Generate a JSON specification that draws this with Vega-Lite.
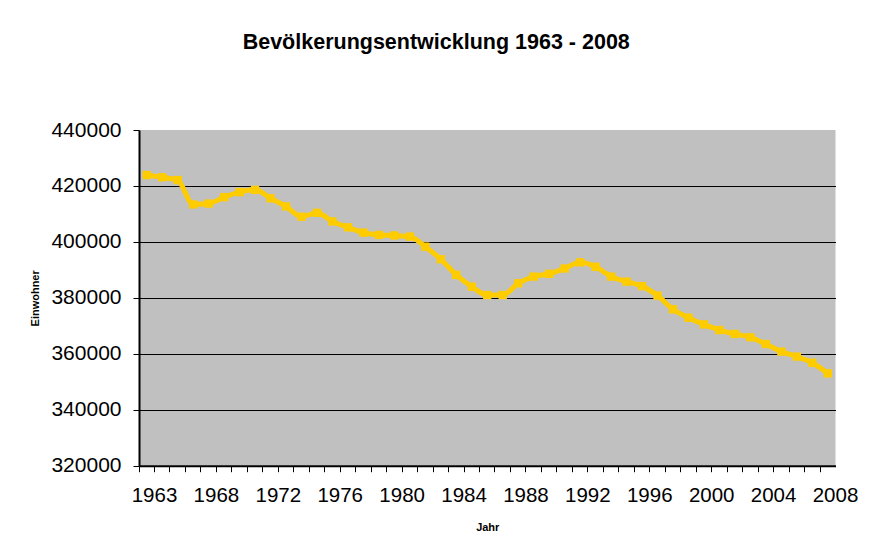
{
  "$schema": "https://vega.github.io/schema/vega-lite/v6.json",
  "autosize": {"type": "none"},
  "width": 696.5,
  "height": 335.7,
  "padding": {"left": 139, "top": 130, "right": 33.5, "bottom": 85.3},
  "background": "white",
  "title": {
    "text": "Bevölkerungsentwicklung 1963 - 2008",
    "font": "Liberation Sans",
    "fontSize": 21.5,
    "fontWeight": "bold",
    "color": "black",
    "anchor": "middle",
    "dx": -51,
    "offset": 66
  },
  "config": {
    "view": {"fill": "#C0C0C0", "stroke": null},
    "font": "Liberation Sans"
  },
  "data": {
    "values": [
      {"Jahr": 1963, "Einwohner": 423900},
      {"Jahr": 1964, "Einwohner": 423100},
      {"Jahr": 1965, "Einwohner": 422100},
      {"Jahr": 1967, "Einwohner": 413400},
      {"Jahr": 1968, "Einwohner": 413700},
      {"Jahr": 1969, "Einwohner": 416000},
      {"Jahr": 1970, "Einwohner": 417800},
      {"Jahr": 1971, "Einwohner": 418600},
      {"Jahr": 1972, "Einwohner": 415600},
      {"Jahr": 1973, "Einwohner": 412700},
      {"Jahr": 1974, "Einwohner": 409000},
      {"Jahr": 1975, "Einwohner": 410400},
      {"Jahr": 1976, "Einwohner": 407300},
      {"Jahr": 1977, "Einwohner": 405200},
      {"Jahr": 1978, "Einwohner": 403300},
      {"Jahr": 1979, "Einwohner": 402500},
      {"Jahr": 1980, "Einwohner": 402300},
      {"Jahr": 1981, "Einwohner": 401900},
      {"Jahr": 1982, "Einwohner": 398300},
      {"Jahr": 1983, "Einwohner": 393800},
      {"Jahr": 1984, "Einwohner": 388200},
      {"Jahr": 1985, "Einwohner": 384000},
      {"Jahr": 1986, "Einwohner": 381000},
      {"Jahr": 1987, "Einwohner": 381000},
      {"Jahr": 1988, "Einwohner": 385200},
      {"Jahr": 1989, "Einwohner": 387600},
      {"Jahr": 1990, "Einwohner": 388600},
      {"Jahr": 1991, "Einwohner": 390500},
      {"Jahr": 1992, "Einwohner": 392700},
      {"Jahr": 1993, "Einwohner": 391100},
      {"Jahr": 1994, "Einwohner": 387600},
      {"Jahr": 1995, "Einwohner": 385800},
      {"Jahr": 1996, "Einwohner": 384200},
      {"Jahr": 1997, "Einwohner": 380800},
      {"Jahr": 1998, "Einwohner": 375900},
      {"Jahr": 1999, "Einwohner": 372900},
      {"Jahr": 2000, "Einwohner": 370500},
      {"Jahr": 2001, "Einwohner": 368500},
      {"Jahr": 2002, "Einwohner": 367100},
      {"Jahr": 2003, "Einwohner": 365900},
      {"Jahr": 2004, "Einwohner": 363500},
      {"Jahr": 2005, "Einwohner": 360800},
      {"Jahr": 2006, "Einwohner": 359000},
      {"Jahr": 2007, "Einwohner": 356800},
      {"Jahr": 2008, "Einwohner": 353000}
    ]
  },
  "encoding": {
    "x": {
      "field": "Jahr",
      "type": "ordinal",
      "scale": {"type": "band", "paddingInner": 0, "paddingOuter": 0},
      "axis": {
        "title": "Jahr",
        "titleFont": "Liberation Sans",
        "titleFontSize": 11,
        "titleFontWeight": "bold",
        "titleColor": "black",
        "titlePadding": 15,
        "bandPosition": 0,
        "labelOffset": 7.74,
        "labelAngle": 0,
        "labelFont": "Liberation Sans",
        "labelFontSize": 20.5,
        "labelColor": "black",
        "labelPadding": 14,
        "labelOverlap": false,
        "labelFlush": false,
        "labelBound": false,
        "labelExpr": "datum.value == 1963 || (datum.value >= 1968 && datum.value % 4 == 0) ? datum.label : ''",
        "tickSize": 6,
        "tickColor": "black",
        "tickWidth": 1,
        "domainColor": "black",
        "domainWidth": 2,
        "grid": false
      }
    },
    "y": {
      "field": "Einwohner",
      "type": "quantitative",
      "scale": {"domain": [320000, 440000], "nice": false, "zero": false},
      "axis": {
        "title": "Einwohner",
        "titleFont": "Liberation Sans",
        "titleFontSize": 11,
        "titleFontWeight": "bold",
        "titleColor": "black",
        "titlePadding": 10,
        "values": [320000, 340000, 360000, 380000, 400000, 420000, 440000],
        "format": "d",
        "labelFont": "Liberation Sans",
        "labelFontSize": 21,
        "labelColor": "black",
        "labelPadding": 12,
        "tickSize": 6,
        "tickColor": "black",
        "domainColor": "black",
        "domainWidth": 2,
        "grid": true,
        "gridColor": {"condition": {"test": "datum.value == 440000", "value": "transparent"}, "value": "black"},
        "gridWidth": 1.2,
        "gridOpacity": 1
      }
    }
  },
  "layer": [
    {
      "mark": {"type": "line", "color": "#FFCC00", "strokeWidth": 5, "interpolate": "monotone"}
    },
    {
      "mark": {"type": "point", "shape": "square", "filled": true, "size": 70, "color": "#FFCC00", "opacity": 1}
    }
  ]
}
